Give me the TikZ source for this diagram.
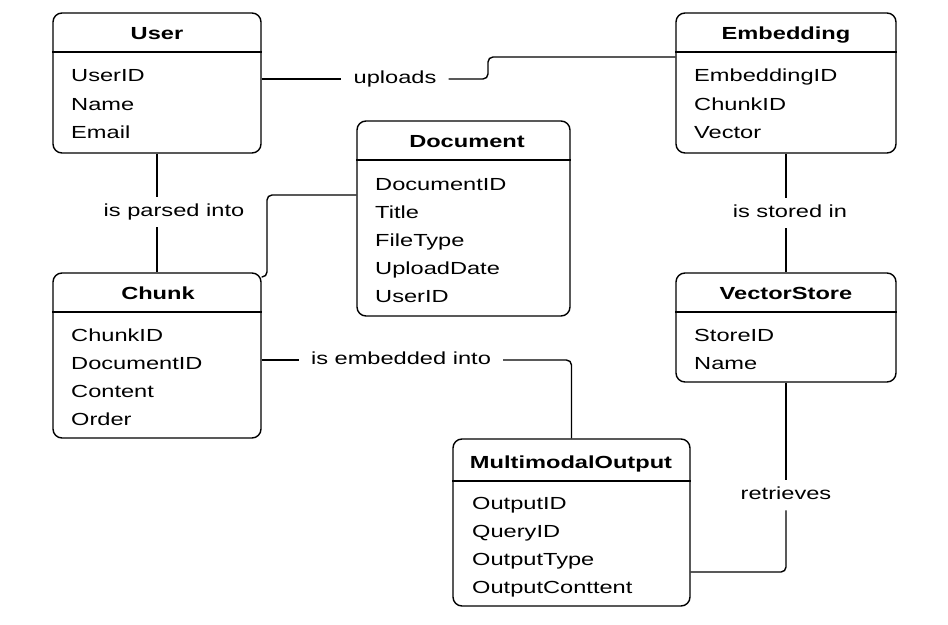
\documentclass[tikz,border=0pt]{standalone}
\usepackage{fontspec}
\setmainfont[FakeStretch=1.35]{Liberation Sans}
\begin{document}
\begin{tikzpicture}[x=1pt,y=-1pt,
  ebox/.style={draw=black,line width=1.4pt,rounded corners=9pt,inner sep=0pt,fill=white},
  hline/.style={draw=black,line width=1.2pt},
  etitle/.style={font=\fontsize{17.5}{20}\selectfont\bfseries,inner sep=0pt,text height=12.6pt,text depth=0pt},
  attr/.style={font=\fontsize{17.5}{20}\selectfont,anchor=west,inner sep=0pt,text height=12.6pt,text depth=0pt},
  rel/.style={font=\fontsize{17.5}{20}\selectfont,inner xsep=12pt,inner ysep=7pt,text height=12.6pt,text depth=3.6pt},
  conn/.style={draw=black,line width=1.4pt,rounded corners=5pt}]
\useasboundingbox[fill=white] (0,0) rectangle (948,624);

% User
\node[ebox,minimum width=208pt,minimum height=140pt] (User) at (157,83) {};
\draw[hline] (User.west |- 0,52) -- (User.east |- 0,52);
\node[etitle] (tUser) at (157,33) {User};
\node[attr] (u1) at (71,75) {UserID};
\node[attr] (u2) at (71,104) {Name};
\node[attr] (u3) at (71,132) {Email};

% Embedding
\node[ebox,minimum width=220pt,minimum height=140pt] (Emb) at (786,83) {};
\draw[hline] (Emb.west |- 0,52) -- (Emb.east |- 0,52);
\node[etitle] (tEmb) at (786,33) {Embedding};
\node[attr] (e1) at (694,75) {EmbeddingID};
\node[attr] (e2) at (694,104) {ChunkID};
\node[attr] (e3) at (694,132) {Vector};

% Document
\node[ebox,minimum width=213pt,minimum height=195pt] (Doc) at (463.5,218.5) {};
\draw[hline] (Doc.west |- 0,160) -- (Doc.east |- 0,160);
\node[etitle] (tDoc) at (467,141) {Document};
\node[attr] (d1) at (375,184) {DocumentID};
\node[attr] (d2) at (375,212) {Title};
\node[attr] (d3) at (375,240) {FileType};
\node[attr] (d4) at (375,268) {UploadDate};
\node[attr] (d5) at (375,296) {UserID};

% Chunk
\node[ebox,minimum width=208pt,minimum height=165pt] (Chunk) at (157,355.5) {};
\draw[hline] (Chunk.west |- 0,312) -- (Chunk.east |- 0,312);
\node[etitle] (tChunk) at (158,293) {Chunk};
\node[attr] (c1) at (71,335) {ChunkID};
\node[attr] (c2) at (71,363) {DocumentID};
\node[attr] (c3) at (71,391) {Content};
\node[attr] (c4) at (71,419) {Order};

% VectorStore
\node[ebox,minimum width=220pt,minimum height=109pt] (VS) at (786,327.5) {};
\draw[hline] (VS.west |- 0,312) -- (VS.east |- 0,312);
\node[etitle] (tVS) at (786,293) {VectorStore};
\node[attr] (v1) at (694,335) {StoreID};
\node[attr] (v2) at (694,363) {Name};

% MultimodalOutput
\node[ebox,minimum width=237pt,minimum height=167pt] (MMO) at (571.5,522.5) {};
\draw[hline] (MMO.west |- 0,481) -- (MMO.east |- 0,481);
\node[etitle] (tMMO) at (571,462) {MultimodalOutput};
\node[attr] (m1) at (472,503) {OutputID};
\node[attr] (m2) at (472,531) {QueryID};
\node[attr] (m3) at (472,559) {OutputType};
\node[attr] (m4) at (472,587) {OutputConttent};

% uploads
\node[rel] (lu) at (395,79) {uploads};
\draw[conn] (lu.west -| User.east) -- (lu.west);
\draw[conn] (lu.east) -- (488,79) -- (488,57) -- (Emb.west |- 0,57);

% is parsed into
\node[rel] (lp) at (174,212) {is parsed into};
\draw[conn] (User.south) -- (User.south |- lp.north);
\draw[conn] (Chunk.north |- lp.south) -- (Chunk.north);

% Document - Chunk
\draw[conn] (Doc.west |- 0,195) -- (267,195) -- (267,277) -- (Chunk.east |- 0,277);

% is embedded into
\node[rel] (le) at (401,360) {is embedded into};
\draw[conn] (le.west -| Chunk.east) -- (le.west);
\draw[conn] (le.east) -| (MMO.north);

% is stored in
\node[rel] (ls) at (790,213) {is stored in};
\draw[conn] (Emb.south) -- (Emb.south |- ls.north);
\draw[conn] (VS.north |- ls.south) -- (VS.north);

% retrieves
\node[rel] (lr) at (786,495) {retrieves};
\draw[conn] (VS.south) -- (lr.north);
\draw[conn] (lr.south) |- (MMO.east |- 0,572);
\end{tikzpicture}
\end{document}
